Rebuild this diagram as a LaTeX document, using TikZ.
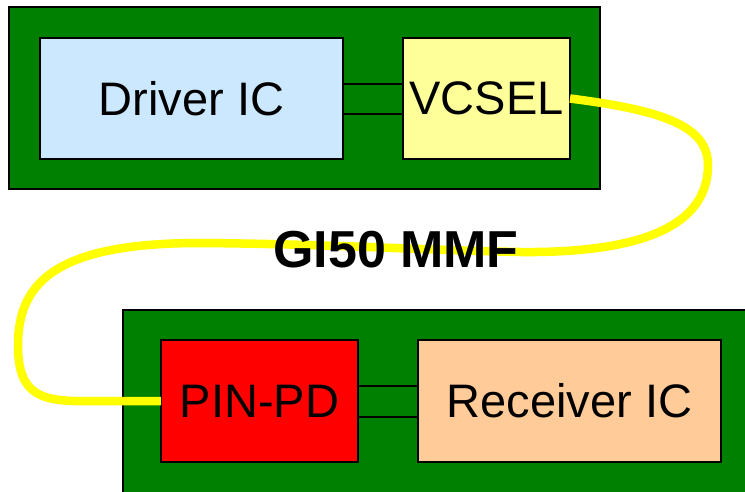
\documentclass[tikz,border=0pt]{standalone}
\usepackage{fontspec}
\setmainfont{Liberation Sans}
\usepackage{tikz}
\usetikzlibrary{positioning, calc}
\definecolor{pcbGreen}{HTML}{008000}
\definecolor{drvFill}{HTML}{CCE8FF}
\definecolor{vcselFill}{HTML}{FFFF99}
\definecolor{pdFill}{HTML}{FF0000}
\definecolor{rcvFill}{HTML}{FFCC99}
\definecolor{fiberc}{HTML}{FFFF00}
\tikzset{
  board/.style={draw=black, line width=2pt, fill=pcbGreen, anchor=north west, inner sep=0pt, outer sep=0pt},
  chip/.style={draw=black, line width=2pt, anchor=north west, inner sep=0pt, outer sep=0pt,
    font=\fontsize{47}{50}\selectfont, minimum height=121pt},
  link/.style={draw=black, line width=2pt, fill=pcbGreen, inner sep=0pt, outer sep=0pt, anchor=west},
  fiber/.style={draw=fiberc, line width=8.5pt},
}

\begin{document}
\begin{tikzpicture}[x=1pt, y=-1pt]
  \clip (0,0) rectangle (745,491);
  % ---- transmitter board
  \node[board, minimum width=591pt, minimum height=182pt] (txb) at (9,7) {};
  \node[chip, fill=drvFill, minimum width=303pt] (drv) at (40,38) {Driver IC};
  \node[chip, fill=vcselFill, minimum width=167pt] (vcsel) at (403,38) {VCSEL};
  \node[link, minimum width=60pt, minimum height=30pt] (lnkTop) at (drv.east) {};
  % ---- receiver board
  \node[board, minimum width=700pt, minimum height=250pt] (rxb) at (123,310) {};
  \node[chip, fill=pdFill, minimum width=197pt, minimum height=122pt] (pd) at (161,340) {PIN-PD};
  \node[chip, fill=rcvFill, minimum width=303pt, minimum height=122pt] (rcv) at (418,340) {Receiver IC};
  \node[link, minimum width=60pt, minimum height=31pt] (lnkBot) at (pd.east) {};
  % ---- fibre loop
  \draw[fiber] (vcsel.east) .. controls (660,110) and (708,125) .. (708,165)
    .. controls (708,235) and (620,253) .. (520,252)
    .. controls (420,250) and (330,244) .. (200,243)
    .. controls (60,243) and (18,280) .. (18,345)
    .. controls (18,395) and (40,402) .. (90,401)
    -- (pd.west);
  \node[font=\fontsize{52}{56}\selectfont\bfseries] (mmf) at (396,250) {GI50 MMF};
\end{tikzpicture}
\end{document}
